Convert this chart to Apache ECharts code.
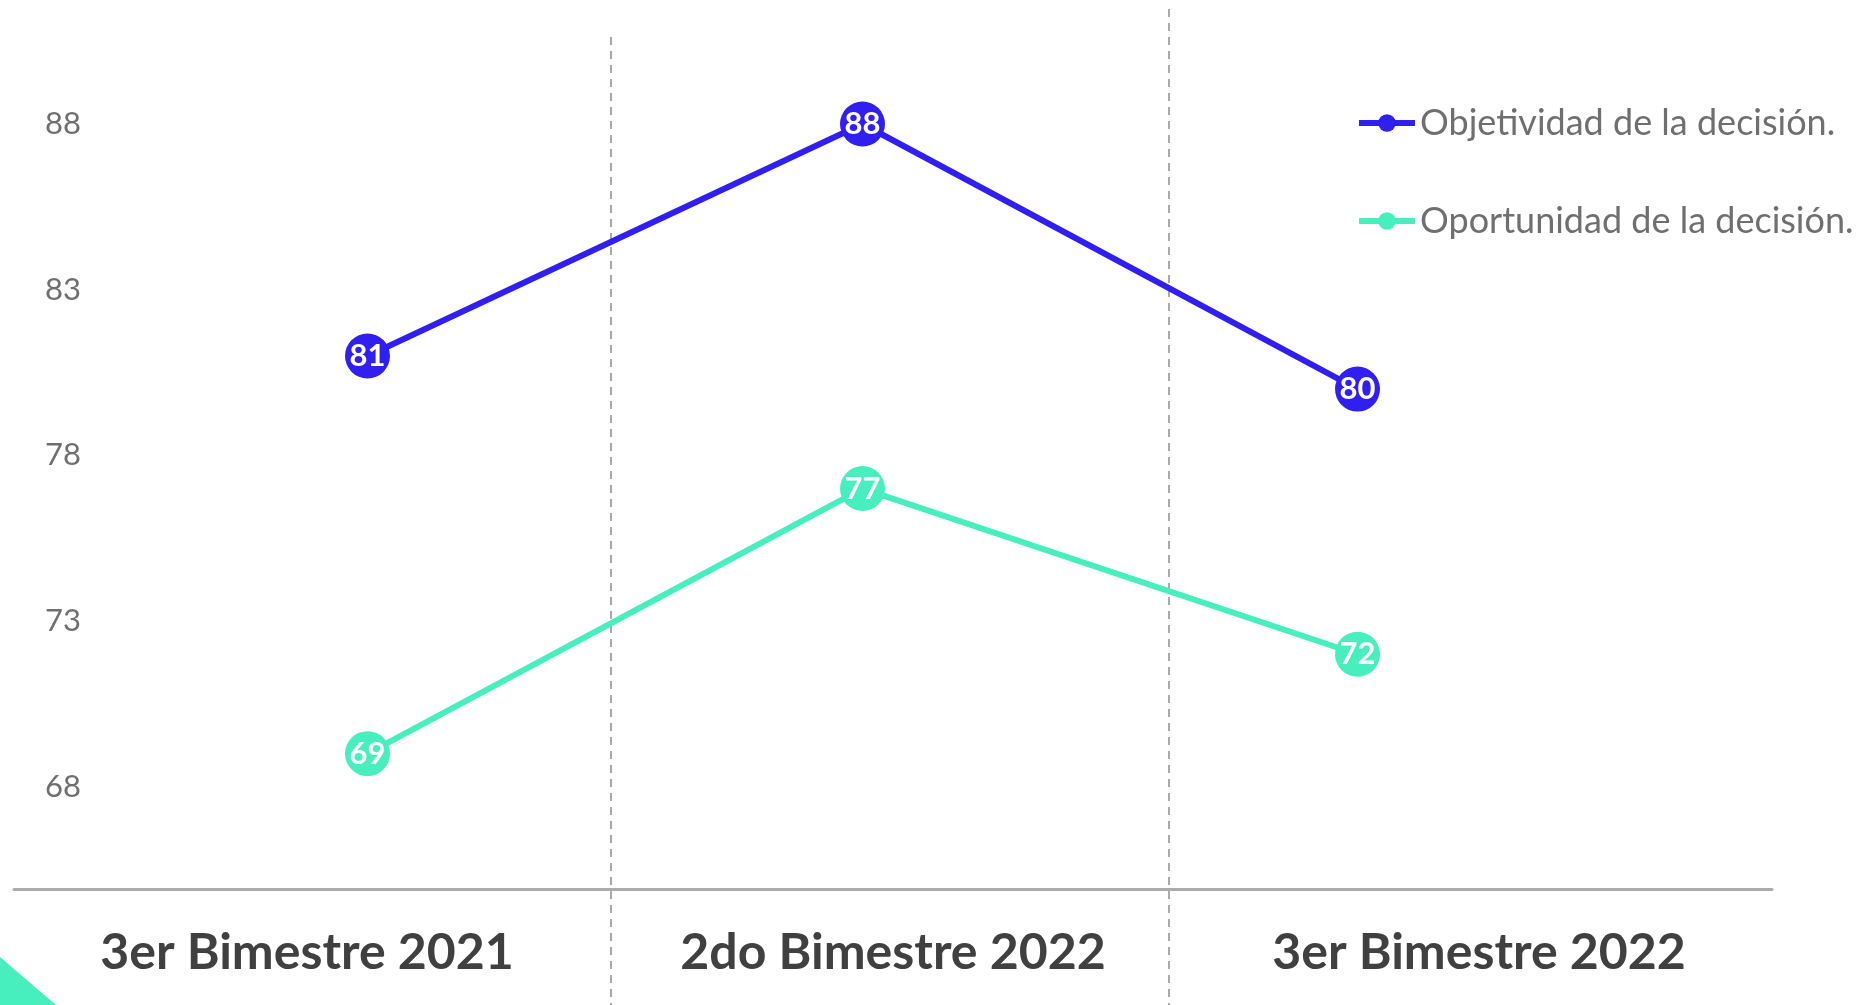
<!DOCTYPE html>
<html>
<head>
<meta charset="utf-8">
<style>
  html, body { margin: 0; padding: 0; background: #ffffff; }
  #chart { width: 1865px; height: 1005px; }
</style>
<script src="https://cdn.jsdelivr.net/npm/echarts@6/dist/echarts.min.js"></script>
</head>
<body>
<div id="chart"></div>
<script>
// Periods compared
const categories = ['3er Bimestre 2021', '2do Bimestre 2022', '3er Bimestre 2022'];

// Scores per indicator
const objetividad = [81, 88, 80];
const oportunidad = [69, 77, 72];

const seriesNames = ['Objetividad de la decisión.', 'Oportunidad de la decisión.'];

// Value axis range and step
const yMin = 68;
const yMax = 88;
const yStep = 5;

const BLUE = '#2f1ff0';
const GREEN = '#46efbd';
const FONT = 'Lato, "Open Sans", sans-serif';

const chart = echarts.init(document.getElementById('chart'));

function lineSeries(name, data, color) {
  return {
    name: name,
    type: 'line',
    xAxisIndex: 0,
    yAxisIndex: 0,
    data: data,
    symbol: 'circle',
    symbolSize: 45,
    showSymbol: true,
    lineStyle: { color: color, width: 6 },
    itemStyle: { color: color },
    label: {
      show: true,
      position: 'inside',
      color: '#ffffff',
      fontFamily: FONT,
      fontWeight: 'bold',
      fontSize: 31
    },
    emphasis: { disabled: true },
    z: 5
  };
}

chart.setOption({
  animation: false,
  backgroundColor: '#ffffff',
  grid: [
    // plotting area of the two lines
    { left: 120, right: 260, top: 124, height: 662.8 },
    // band that carries the period names below the base line
    { left: 14, right: 93, top: 20, bottom: 116 }
  ],
  xAxis: [
    {
      gridIndex: 0,
      type: 'category',
      data: categories,
      boundaryGap: true,
      axisLine: { show: false },
      axisTick: { show: false },
      axisLabel: { show: false },
      splitLine: { show: false }
    },
    {
      gridIndex: 1,
      type: 'category',
      data: categories,
      boundaryGap: true,
      axisLine: { show: true, lineStyle: { color: '#ababab', width: 3 } },
      axisTick: { show: false },
      axisLabel: {
        margin: 39,
        color: '#404040',
        fontFamily: FONT,
        fontWeight: 'bold',
        fontSize: 50
      },
      splitLine: { show: false }
    }
  ],
  yAxis: [
    {
      gridIndex: 0,
      type: 'value',
      min: yMin,
      max: yMax,
      interval: yStep,
      axisLine: { show: false },
      axisTick: { show: false },
      splitLine: { show: false },
      axisLabel: {
        margin: 39,
        color: '#6f6f6f',
        fontFamily: FONT,
        fontSize: 31
      }
    },
    {
      gridIndex: 1,
      type: 'value',
      show: false
    }
  ],
  legend: {
    orient: 'vertical',
    left: 1351,
    top: 100,
    itemWidth: 56,
    itemHeight: 22,
    itemGap: 62,
    data: seriesNames,
    lineStyle: { width: 6 },
    textStyle: {
      color: '#6f6f6f',
      fontFamily: FONT,
      fontSize: 36,
      lineHeight: 36
    }
  },
  graphic: [
    {
      type: 'line',
      z: 0,
      shape: { x1: 611, y1: 37, x2: 611, y2: 1005 },
      style: { stroke: '#aaaaaa', lineWidth: 2, lineDash: [8, 6] }
    },
    {
      type: 'line',
      z: 0,
      shape: { x1: 1169, y1: 9, x2: 1169, y2: 1005 },
      style: { stroke: '#aaaaaa', lineWidth: 2, lineDash: [8, 6] }
    },
    {
      type: 'polygon',
      z: 0,
      shape: { points: [[0, 957], [56, 1005], [0, 1005]] },
      style: { fill: GREEN }
    }
  ],
  series: [
    lineSeries(seriesNames[0], objetividad, BLUE),
    lineSeries(seriesNames[1], oportunidad, GREEN)
  ]
});
</script>
</body>
</html>
